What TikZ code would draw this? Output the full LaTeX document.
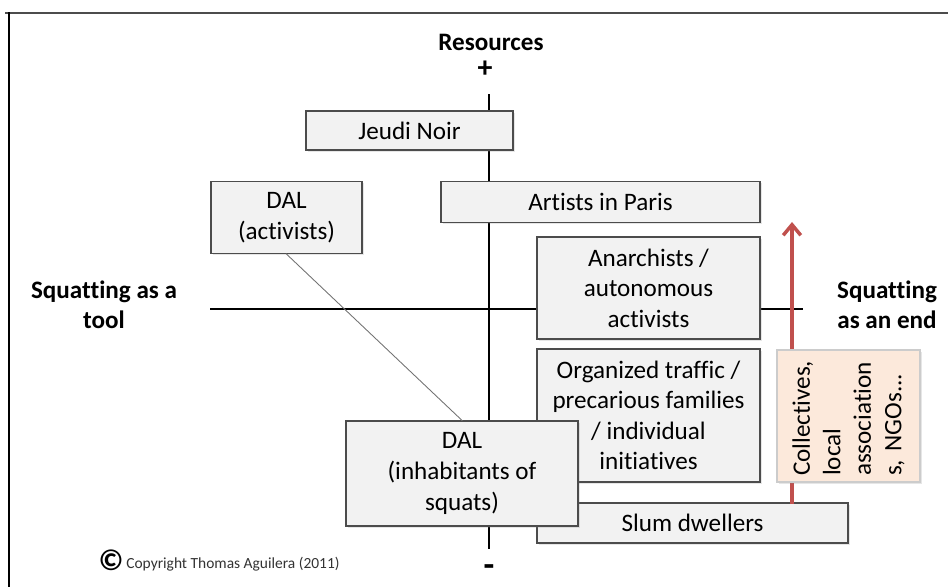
\documentclass[tikz,border=0pt]{standalone}
\usepackage{fontspec}
\setmainfont[Ligatures=NoCommon]{Carlito}
\usepackage{tikz}
\usetikzlibrary{arrows.meta}
\usetikzlibrary{shadows}
\usetikzlibrary{positioning}
\definecolor{arrowred}{HTML}{C0504D}
\definecolor{peach}{HTML}{FCE9DB}
\begin{document}
\begin{tikzpicture}[x=0.02cm,y=-0.02cm,line cap=rect,
  box/.style={draw=black!70,fill=black!5,line width=0.7pt,align=center,inner sep=0pt,
    font=\fontsize{14.3}{17.4}\selectfont,
    drop shadow={opacity=0.2,shadow xshift=1.1pt,shadow yshift=-1.1pt}},
  notebox/.style={box,draw=black!20,fill=peach},
  axis/.style={line width=1.7pt},
  title/.style={font=\bfseries\fontsize{14.3}{17}\selectfont,align=center,inner sep=0pt},
  link/.style={draw=black!55,line width=0.5pt},
  redarrow/.style={draw=arrowred,line width=2pt,-{Straight Barb[length=6pt,width=10pt,line width=2pt]}}]
\useasboundingbox (0,0) rectangle (948,587);
\draw [line width=1pt,color=black!70] (6,13)-- (948,13);
\draw [line width=1.2pt] (9,13)-- (9,587);
\coordinate (vtop) at (489,95);
\coordinate (vbot) at (489,548);
\coordinate (hleft) at (211,309);
\coordinate (hright) at (802,309);
\draw [axis] (vtop)-- (vbot);
\draw [axis] (hleft)-- (hright);
\node [title] (res) at (491,42) {Resources};
\node [title,font=\bfseries\fontsize{17}{17}\selectfont] (plus) at (485,69) {+};
\node [title,font=\bfseries\fontsize{20}{20}\selectfont] (minus) at (489,571) {-};
\node [title] (tool) at (104,305) {Squatting as a\\tool};
\node [title] (end) at (887,305) {Squatting\\as an end};
\node [box,minimum width=4.14cm,minimum height=0.78cm] (jeudi) at (409.5,130.5) {Jeudi Noir};
\node [box,minimum width=6.38cm,minimum height=0.82cm] (artists) at (600.5,202) {Artists in Paris};
\node [box,minimum width=3.02cm,minimum height=1.44cm] (dalact) at (286.5,217.5) {DAL\\(activists)};
\node [box,minimum width=4.46cm,minimum height=2.04cm] (anarch) at (648.5,288) {Anarchists /\\autonomous\\activists};
\node [box,minimum width=4.46cm,minimum height=2.66cm] (organ) at (648.5,415.5) {Organized traffic /\\precarious families\\/ individual\\initiatives};
\node [box,minimum width=6.22cm,minimum height=0.80cm] (slum) at (692.5,523) {Slum dwellers};
\coordinate (tip) at (792,222);
\draw [redarrow] (tip |- slum.north)-- (tip);
\node [notebox,rotate=90,minimum width=2.64cm,minimum height=2.86cm,align=left,text width=2.4cm] (collect) at (848.5,416) {Collectives,\\local\\association\\s, NGOs...};
\node [box,minimum width=4.64cm,minimum height=2.10cm] (dalinh) at (462,473.5) {DAL\\(inhabitants of\\squats)};
\draw [link] (dalact.south)-- (dalinh.north);
\node [inner sep=0pt,font=\bfseries\fontsize{17}{17}\selectfont] (csym) at (111,560) {\textcopyright};
\node [anchor=west,inner sep=0pt,text=black!80,font=\fontsize{8.8}{10}\selectfont] (copy) at (126,564) {Copyright Thomas Aguilera (2011)};
\end{tikzpicture}
\end{document}
